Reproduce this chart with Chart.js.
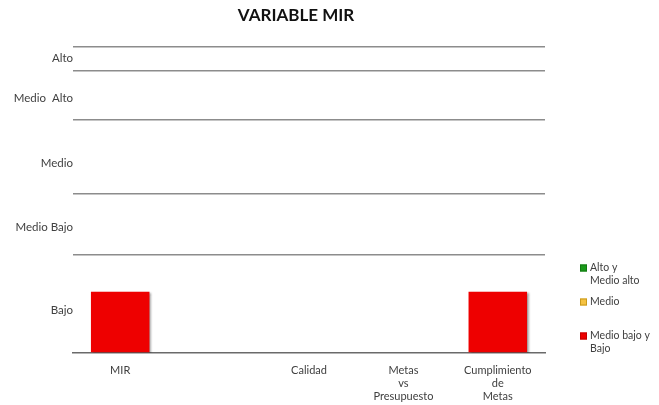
<!DOCTYPE html>
<html>
<head>
<meta charset="utf-8">
<script src="https://cdn.jsdelivr.net/npm/chart.js@4/dist/chart.umd.min.js"></script>
<style>
  html, body { margin: 0; padding: 0; background: #fff; }
  #wrap { width: 659px; height: 405px; position: relative; }
</style>
</head>
<body>
<div id="wrap"><canvas id="c"></canvas></div>
<script>
// ---- data ----
const categories = ['MIR', '', 'Calidad', ['Metas', 'vs', 'Presupuesto'], ['Cumplimiento', 'de', 'Metas']];
const seriesAltoMedioAlto = [null, null, null, null, null];
const seriesMedio = [null, null, null, null, null];
const seriesMedioBajoBajo = [20, null, null, null, 20];
const levelLabels = ['Bajo', 'Medio Bajo', 'Medio', 'Medio  Alto', 'Alto'];
const levelPositions = [14, 41, 62, 83, 96];
const levelBoundaries = [0, 32, 52, 76, 92, 100];
const legendLabels = [['Alto y', 'Medio alto'], ['Medio'], ['Medio bajo y', 'Bajo']];
const titleText = 'VARIABLE MIR';

const FONT = 'Lato, "Noto Sans", sans-serif';
const colors = ['#1a9a1a', '#f5c242', '#ee0000'];
const borders = ['#137a13', '#c99a1c', '#c40000'];

const titlePlugin = {
  id: 'customTitle',
  afterDraw(chart) {
    const ctx = chart.ctx;
    ctx.save();
    ctx.font = 'bold 17px ' + FONT;
    ctx.fillStyle = '#111';
    ctx.textAlign = 'center';
    ctx.textBaseline = 'middle';
    ctx.fillText(titleText, 296, 16);
    ctx.restore();
  }
};

const legendPlugin = {
  id: 'customLegend',
  afterDraw(chart) {
    const ctx = chart.ctx;
    const tops = [268, 302, 336];
    ctx.save();
    ctx.font = '10.5px ' + FONT;
    ctx.textBaseline = 'middle';
    ctx.textAlign = 'left';
    legendLabels.forEach((lines, i) => {
      const y = tops[i];
      ctx.fillStyle = colors[i];
      ctx.fillRect(580, y - 3.5, 7, 7);
      ctx.strokeStyle = borders[i];
      ctx.lineWidth = 1;
      ctx.strokeRect(580.5, y - 3, 6, 6);
      ctx.fillStyle = '#404040';
      lines.forEach((t, k) => ctx.fillText(t, 590, y + k * 13));
    });
    ctx.restore();
  }
};

const shadowPlugin = {
  id: 'barShadow',
  beforeDatasetsDraw(chart) {
    const ctx = chart.ctx;
    ctx.save();
    ctx.shadowColor = 'rgba(0,0,0,0.35)';
    ctx.shadowOffsetX = 2;
    ctx.shadowOffsetY = 1;
    ctx.shadowBlur = 2;
  },
  afterDatasetsDraw(chart) {
    chart.ctx.restore();
  }
};

new Chart(document.getElementById('c'), {
  type: 'bar',
  data: {
    labels: categories,
    datasets: [
      { label: 'Alto y Medio alto', data: seriesAltoMedioAlto, backgroundColor: colors[0] },
      { label: 'Medio', data: seriesMedio, backgroundColor: colors[1] },
      { label: 'Medio bajo y Bajo', data: seriesMedioBajoBajo, backgroundColor: colors[2] }
    ]
  },
  options: {
    responsive: true,
    maintainAspectRatio: false,
    animation: false,
    datasets: { bar: { grouped: false, categoryPercentage: 1, barPercentage: 0.62 } },
    layout: { padding: { top: 46.5, right: 114, bottom: 0, left: 0 } },
    plugins: {
      legend: { display: false },
      title: { display: false },
      tooltip: { enabled: false }
    },
    scales: {
      x: {
        afterFit(scale) { scale.height = 52; },
        grid: { display: false, drawTicks: false },
        border: { display: true, color: '#6a6a6a', width: 1.5 },
        ticks: { color: '#404040', font: { family: FONT, size: 11, lineHeight: 1.18 }, padding: 11, maxRotation: 0, autoSkip: false }
      },
      y: {
        min: 0,
        max: 100,
        afterBuildTicks(scale) {
          const vals = levelBoundaries.concat(levelPositions).sort((a, b) => a - b);
          scale.ticks = vals.map(v => ({ value: v }));
        },
        afterFit(scale) { scale.width = 73; },
        grid: {
          drawTicks: false,
          color: (c) => (c.tick && levelBoundaries.includes(c.tick.value) && c.tick.value !== 0) ? '#8c8c8c' : 'rgba(0,0,0,0)',
          lineWidth: 1.5
        },
        border: { display: false },
        ticks: {
          autoSkip: false,
          padding: 0,
          color: '#404040',
          font: { family: FONT, size: 11.5 },
          callback: (v) => {
            const i = levelPositions.indexOf(v);
            return i >= 0 ? levelLabels[i] : '';
          }
        }
      }
    }
  },
  plugins: [titlePlugin, legendPlugin, shadowPlugin]
});
</script>
</body>
</html>
